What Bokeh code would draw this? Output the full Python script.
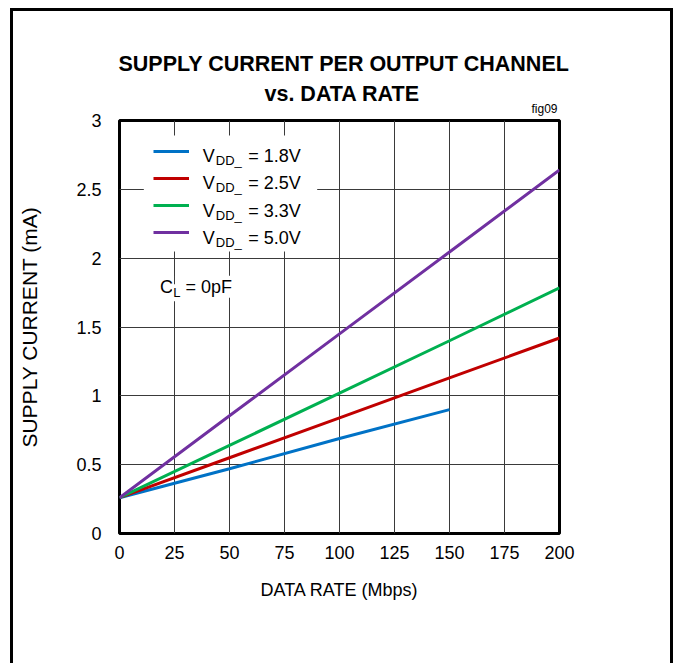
from bokeh.plotting import figure
from bokeh.models import (Legend, LegendItem, Label, Range1d, FixedTicker, Title,
                          BoxAnnotation)
from bokeh.embed import file_html
from bokeh.resources import INLINE

# ---- data ----
rate_18 = [0, 50, 100, 150]
current_18 = [0.26, 0.47, 0.69, 0.90]
rate_all = [0, 50, 100, 150, 200]
current_25 = [0.26, 0.55, 0.84, 1.13, 1.42]
current_33 = [0.26, 0.64, 1.02, 1.40, 1.785]
current_50 = [0.26, 0.855, 1.45, 2.045, 2.64]

x_ticks = [0, 25, 50, 75, 100, 125, 150, 175, 200]
y_ticks = [0, 0.5, 1, 1.5, 2, 2.5, 3]
y_tick_labels = ["0", "0.5", "1", "1.5", "2", "2.5", "3"]
series_values = ["1.8V", "2.5V", "3.3V", "5.0V"]
colors = ["#0072C6", "#C00000", "#00B050", "#7030A0"]

FONT = "Liberation Sans"

p = figure(width=657, height=652, output_backend="svg", toolbar_location=None,
           x_range=Range1d(0, 200), y_range=Range1d(0, 3),
           min_border_left=106, min_border_right=117, min_border_top=109,
           min_border_bottom=133)
p.styles = {"box-sizing": "content-box", "margin-left": "10px", "margin-top": "8px",
            "border-left": "3px solid black", "border-top": "3px solid black",
            "border-right": "3px solid black"}
p.background_fill_color = "white"
p.border_fill_color = "white"
p.outline_line_color = "black"
p.outline_line_width = 3

p.xaxis.ticker = FixedTicker(ticks=x_ticks)
p.yaxis.ticker = FixedTicker(ticks=y_ticks)
p.yaxis.major_label_overrides = {t: l for t, l in zip(y_ticks, y_tick_labels)}
for ax in (p.xaxis, p.yaxis):
    ax.axis_line_color = None
    ax.major_tick_line_color = None
    ax.minor_tick_line_color = None
    ax.major_tick_in = 0
    ax.major_tick_out = 0
    ax.major_label_text_font = FONT
    ax.major_label_text_font_size = "18px"
    ax.major_label_text_color = "black"
    ax.axis_label_text_font = FONT
    ax.axis_label_text_font_style = "normal"
    ax.axis_label_text_color = "black"
p.xaxis.axis_label_text_font_size = "18px"
p.yaxis.axis_label_text_font_size = "21px"
p.xaxis.axis_label = "DATA RATE (Mbps)"
p.yaxis.axis_label = "SUPPLY CURRENT (mA)"
p.xaxis.major_label_standoff = 12
p.yaxis.major_label_standoff = 18
p.xaxis.axis_label_standoff = 18
p.yaxis.axis_label_standoff = 32

for g in (p.xgrid, p.ygrid):
    g.grid_line_color = "#3a3a3a"
    g.grid_line_width = 1
    g.grid_line_alpha = 1.0
p.xgrid.ticker = FixedTicker(ticks=x_ticks)
p.ygrid.ticker = FixedTicker(ticks=y_ticks)


def px2x(px):
    return (px - 119) / 434 * 200


def py2y(py):
    return (530 - py) / 410 * 3


# white backing of the legend block (hides the grid behind it)
p.add_layout(BoxAnnotation(left=px2x(143), right=px2x(314), top=py2y(135),
                           bottom=py2y(250), fill_color="white", fill_alpha=1.0,
                           line_color=None, level="underlay"))

r18 = p.line(rate_18, current_18, line_color=colors[0], line_width=3)
r25 = p.line(rate_all, current_25, line_color=colors[1], line_width=3)
r33 = p.line(rate_all, current_33, line_color=colors[2], line_width=3)
r50 = p.line(rate_all, current_50, line_color=colors[3], line_width=3)
renderers = [r18, r25, r33, r50]

legend = Legend(items=[LegendItem(label=" ", renderers=[r]) for r in renderers],
                location=(34, 291), orientation="vertical",
                background_fill_alpha=0.0,
                border_line_color=None, padding=8, spacing=7, margin=0,
                glyph_width=36, glyph_height=20, label_height=20,
                label_width=118, label_standoff=4,
                label_text_font=FONT, label_text_font_size="18px")
p.add_layout(legend, "center")

# legend texts: V_DD_ = x.xV
item_baselines = [155, 182, 209.5, 236.5]
for val, base in zip(series_values, item_baselines):
    p.add_layout(Label(x=px2x(201), y=py2y(base), text="V", text_font=FONT,
                       text_font_size="18px", text_baseline="alphabetic",
                       text_color="black", level="overlay"))
    p.add_layout(Label(x=px2x(214), y=py2y(base + 5), text="DD_", text_font=FONT,
                       text_font_size="13px", text_baseline="alphabetic",
                       text_color="black", level="overlay"))
    p.add_layout(Label(x=px2x(246), y=py2y(base), text="= " + val, text_font=FONT,
                       text_font_size="18px", text_baseline="alphabetic",
                       text_color="black", level="overlay"))

# C_L = 0pF
p.add_layout(Label(x=px2x(158), y=py2y(285), text="C", text_font=FONT,
                   text_font_size="18px", text_baseline="alphabetic", text_color="black",
                   background_fill_color="white", padding=1, level="overlay"))
p.add_layout(Label(x=px2x(171), y=py2y(291), text="L", text_font=FONT,
                   text_font_size="13px", text_baseline="alphabetic", text_color="black",
                   background_fill_color="white", padding=1, level="overlay"))
p.add_layout(Label(x=px2x(183), y=py2y(285), text="= 0pF", text_font=FONT,
                   text_font_size="18px", text_baseline="alphabetic", text_color="black",
                   background_fill_color="white", padding=1, level="overlay"))

# titles (added closest-first)
t_fig = Title(text="fig09", align="right", offset=2, text_font=FONT,
              text_font_size="12px", text_font_style="normal", text_color="black",
              standoff=10)
t_sub = Title(text="vs. DATA RATE", align="left", offset=145, text_font=FONT,
              text_font_size="21.5px", text_font_style="bold", text_color="black",
              standoff=0)
t_main = Title(text="SUPPLY CURRENT PER OUTPUT CHANNEL", align="left", offset=-1,
               text_font=FONT, text_font_size="21.5px", text_font_style="bold",
               text_color="black", standoff=32)
try:
    t_sub.standoff = -23
except ValueError:
    pass
p.add_layout(t_fig, "above")
p.add_layout(t_sub, "above")
p.add_layout(t_main, "above")

open("out.html", "w").write(file_html(p, INLINE))
